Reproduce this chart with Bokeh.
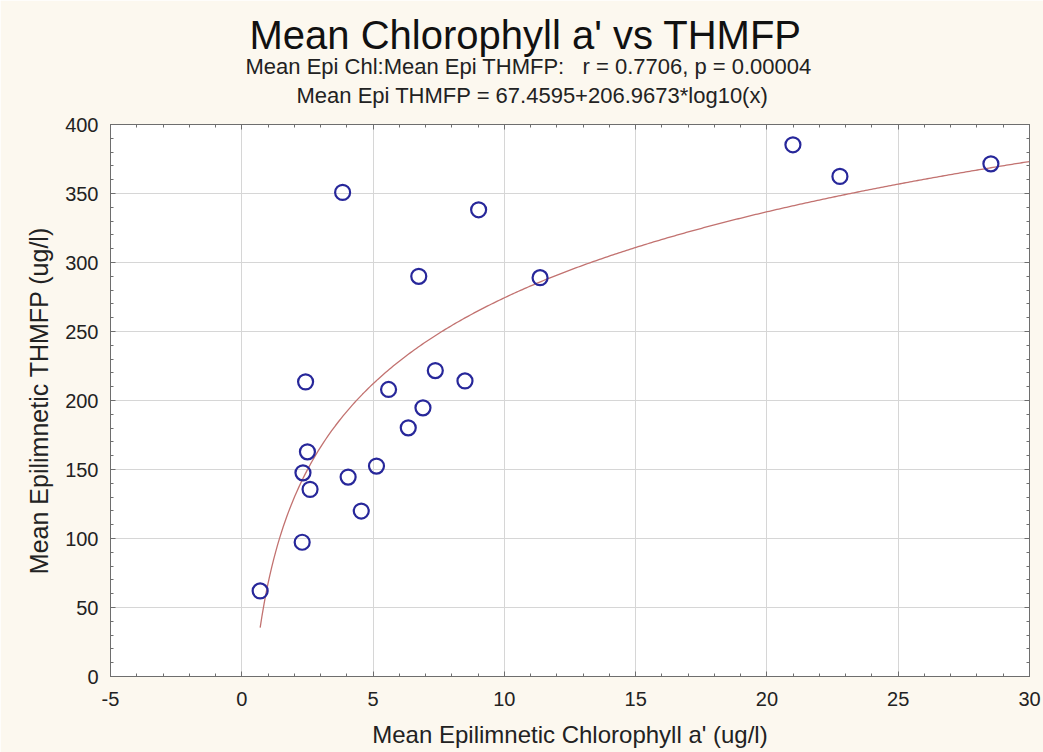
import numpy as np
from bokeh.plotting import figure
from bokeh.models import (Range1d, SingleIntervalTicker, LinearAxis, Title,
                          CustomJSTickFormatter)
from bokeh.embed import file_html
from bokeh.resources import INLINE

# ---- data ----
chl = [2.43, 2.50, 2.33, 2.60, 2.30, 0.70, 4.05, 4.55, 5.13, 5.59, 6.34,
       6.90, 7.37, 8.50, 3.84, 9.02, 6.74, 11.36, 20.99, 22.78, 28.53]
thmfp = [213.5, 162.8, 147.6, 135.6, 97.3, 62.0, 144.5, 119.9, 152.5, 208.0, 180.2,
         194.7, 221.7, 214.2, 350.8, 338.2, 290.0, 289.0, 385.3, 362.4, 371.5]

# fitted model given in the chart subtitle
fit_intercept = 67.4595
fit_slope = 206.9673

title_text = "Mean Chlorophyll a' vs THMFP"
sub1_text = "Mean Epi Chl:Mean Epi THMFP:\u00a0\u00a0 r = 0.7706, p = 0.00004"
sub2_text = "Mean Epi THMFP = 67.4595+206.9673*log10(x)"
x_label = "Mean Epilimnetic Chlorophyll a' (ug/l)"
y_label = "Mean Epilimnetic THMFP (ug/l)"

FONT = "Liberation Sans"
BG = "#fcf8ef"
AXC = "#6e6e6e"
MARK = "#27279a"
FIT = "#c27270"

p = figure(width=1043, height=752, x_range=Range1d(-5, 30), y_range=Range1d(0, 400),
           output_backend="svg", toolbar_location=None, title=None,
           min_border_left=110, min_border_right=14, min_border_top=124,
           min_border_bottom=76, background_fill_color="white",
           border_fill_color=BG)
p.outline_line_color = AXC

xt = SingleIntervalTicker(interval=5, num_minor_ticks=5)
yt = SingleIntervalTicker(interval=50, num_minor_ticks=5)
p.xaxis.ticker = xt
p.yaxis.ticker = yt
p.xaxis.formatter = CustomJSTickFormatter(code="return tick.toFixed(0)")

for ax in (p.xaxis[0], p.yaxis[0]):
    ax.axis_line_color = AXC
    ax.major_tick_line_color = AXC
    ax.minor_tick_line_color = AXC
    ax.major_tick_in = 5
    ax.major_tick_out = 0
    ax.minor_tick_in = 3
    ax.minor_tick_out = 0
    ax.major_label_text_font = FONT
    ax.major_label_text_font_size = "20px"
    ax.major_label_text_color = "#222222"
    ax.major_label_standoff = 12
    ax.axis_label_text_font = FONT
    ax.axis_label_text_font_style = "normal"
    ax.axis_label_text_color = "#222222"

p.xaxis.major_label_standoff = 15
p.xaxis.axis_label = x_label
p.yaxis.axis_label = y_label
p.xaxis.axis_label_text_font_size = "24px"
p.yaxis.axis_label_text_font_size = "25px"
p.xaxis.axis_label_standoff = 12
p.yaxis.axis_label_standoff = 9

p.grid.grid_line_color = "#d6d6d6"
p.grid.grid_line_width = 1

blank = CustomJSTickFormatter(code="return ''")
for loc, tk in (("above", SingleIntervalTicker(interval=5, num_minor_ticks=5)),
                ("right", SingleIntervalTicker(interval=50, num_minor_ticks=5))):
    a = LinearAxis(ticker=tk, formatter=blank, major_label_standoff=0,
                   major_label_text_font_size="2px",
                   axis_line_color=AXC, major_tick_line_color=AXC,
                   minor_tick_line_color=AXC, major_tick_in=5, major_tick_out=0,
                   minor_tick_in=3, minor_tick_out=0)
    p.add_layout(a, loc)

# fitted curve from the stated model
xs = np.linspace(min(chl), 30, 400)
ys = fit_intercept + fit_slope * np.log10(xs)
p.line(xs, ys, line_color=FIT, line_width=1.3)

p.scatter(chl, thmfp, marker="circle", size=15, fill_color=None,
          line_color=MARK, line_width=2.2)

p.add_layout(Title(text=sub2_text, align="left", text_font=FONT,
                   text_font_size="22px", text_font_style="normal",
                   text_color="#222222", standoff=33, offset=186), "above")
p.add_layout(Title(text=sub1_text, align="left", text_font=FONT,
                   text_font_size="22px", text_font_style="normal",
                   text_color="#222222", standoff=-29, offset=135), "above")
p.add_layout(Title(text=title_text, align="left", text_font=FONT,
                   text_font_size="40px", text_font_style="normal",
                   text_color="#111111", standoff=15, offset=139), "above")

open("out.html", "w").write(file_html(p, INLINE))
